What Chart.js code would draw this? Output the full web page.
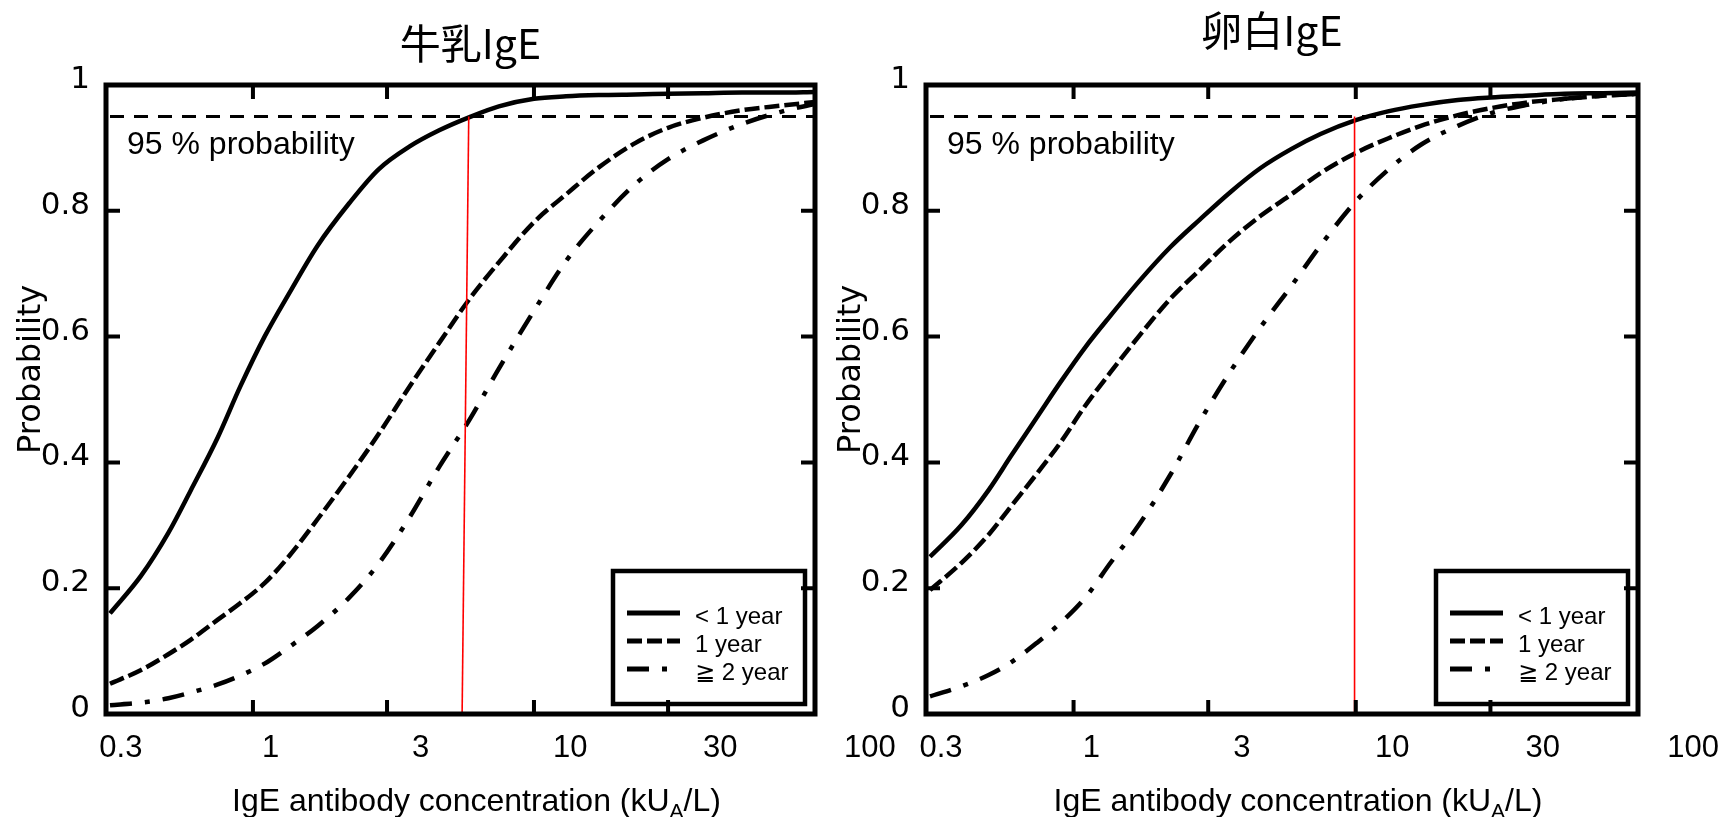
<!DOCTYPE html>
<html>
<head>
<meta charset="utf-8">
<script src="https://cdn.jsdelivr.net/npm/chart.js@4.4.1/dist/chart.umd.min.js"></script>
<style>
  html, body { margin: 0; padding: 0; background: #fff; }
  #wrap { position: relative; width: 1727px; height: 817px; }
  #wrap canvas { position: absolute; left: 0; top: 0; }
</style>
</head>
<body>
<div id="wrap">
  <canvas id="milk" width="1727" height="817"></canvas>
  <canvas id="egg" width="1727" height="817"></canvas>
</div>
<script>
const concentration = [0.31, 0.4, 0.5, 0.6, 0.75, 0.9, 1.1, 1.35, 1.7, 2.2, 2.8, 3.6, 4.6, 5.9, 7.5, 10, 13, 17, 23, 30, 40, 55, 75, 100];

// 牛乳IgE
const milkUnder1 = [0.16, 0.22, 0.288, 0.355, 0.44, 0.52, 0.60, 0.67, 0.745, 0.812, 0.866, 0.902, 0.928, 0.949, 0.966, 0.978, 0.982, 0.984, 0.985, 0.986, 0.987, 0.988, 0.988, 0.989];
const milk1 = [0.048, 0.07, 0.095, 0.118, 0.15, 0.176, 0.208, 0.252, 0.31, 0.378, 0.445, 0.52, 0.59, 0.66, 0.718, 0.782, 0.826, 0.869, 0.908, 0.932, 0.948, 0.96, 0.967, 0.973];
const milk2plus = [0.014, 0.018, 0.025, 0.034, 0.047, 0.061, 0.08, 0.107, 0.14, 0.185, 0.239, 0.312, 0.393, 0.468, 0.549, 0.641, 0.72, 0.783, 0.843, 0.882, 0.912, 0.938, 0.957, 0.97];

// 卵白IgE
const eggUnder1 = [0.25, 0.30, 0.356, 0.41, 0.475, 0.528, 0.583, 0.633, 0.687, 0.742, 0.786, 0.83, 0.868, 0.898, 0.922, 0.944, 0.958, 0.968, 0.976, 0.98, 0.983, 0.986, 0.987, 0.988];
const egg1 = [0.197, 0.24, 0.285, 0.33, 0.385, 0.432, 0.49, 0.543, 0.60, 0.66, 0.706, 0.753, 0.792, 0.826, 0.86, 0.892, 0.915, 0.935, 0.952, 0.963, 0.972, 0.978, 0.983, 0.986];
const egg2plus = [0.028, 0.044, 0.062, 0.082, 0.115, 0.145, 0.185, 0.24, 0.30, 0.38, 0.465, 0.545, 0.615, 0.68, 0.745, 0.815, 0.865, 0.905, 0.935, 0.955, 0.968, 0.978, 0.983, 0.986];

// red cut-off lines
const milkCutX = [5.55, 5.86];
const milkCutY = [0, 0.95];
const eggCutX = [9.9, 9.9];
const eggCutY = [0, 0.95];

const refLevel = 0.95;
const ageGroups = ['< 1 year', '1 year', '≧ 2 year'];
const xTickLabels = ['0.3', '1', '3', '10', '30', '100'];
const xTickMarks = [1, 3, 10, 30];
const yTickValues = [0, 0.2, 0.4, 0.6, 0.8, 1];
const yTickLabels = ['0', '0.2', '0.4', '0.6', '0.8', '1'];

const X_MIN = 0.31, X_MAX = 100;
const latinFont = '"Liberation Sans", Arial, "DejaVu Sans", "Noto Sans CJK JP", sans-serif';
const lineStyles = [
  { dash: [], width: 4.5 },
  { dash: [15, 5], width: 4.5 },
  { dash: [22, 13, 5, 13], width: 4.5 }
];

function pts(xs, ys) {
  return xs.map((x, i) => ({ x: x, y: ys[i] }));
}

const framePlugin = {
  id: 'frame',
  afterDatasetsDraw(chart) {
    const ctx = chart.ctx, a = chart.chartArea;
    const xs = chart.scales.x, ys = chart.scales.y;
    ctx.save();

    // legend
    const bw = 192, bh = 133;
    const bx = a.right - 10 - bw, by = a.bottom - 143;
    ctx.fillStyle = '#fff';
    ctx.fillRect(bx, by, bw, bh);
    ctx.strokeStyle = '#000';
    ctx.lineWidth = 4.5;
    ctx.strokeRect(bx, by, bw, bh);
    ctx.font = '24px ' + latinFont;
    ctx.textBaseline = 'middle';
    ctx.fillStyle = '#000';
    ageGroups.forEach((g, i) => {
      const ly = by + 46 + i * 28;
      ctx.beginPath();
      ctx.setLineDash(lineStyles[i].dash);
      ctx.lineWidth = 5;
      ctx.moveTo(bx + 14, ly - 4);
      ctx.lineTo(bx + 67, ly - 4);
      ctx.stroke();
      ctx.setLineDash([]);
      ctx.fillText(g, bx + 82, ly);
    });

    // frame and inward ticks
    ctx.lineWidth = 5;
    ctx.strokeRect(a.left, a.top, a.right - a.left, a.bottom - a.top);
    ctx.lineWidth = 4;
    ctx.beginPath();
    xTickMarks.forEach(v => {
      const px = xs.getPixelForValue(v);
      ctx.moveTo(px, a.top); ctx.lineTo(px, a.top + 14);
      ctx.moveTo(px, a.bottom); ctx.lineTo(px, a.bottom - 14);
    });
    yTickValues.slice(1, -1).forEach(v => {
      const py = ys.getPixelForValue(v);
      ctx.moveTo(a.left, py); ctx.lineTo(a.left + 14, py);
      ctx.moveTo(a.right, py); ctx.lineTo(a.right - 14, py);
    });
    ctx.stroke();
    ctx.restore();
  },
  afterDraw(chart) {
    const ctx = chart.ctx, a = chart.chartArea, p = chart.options.panel;
    const ys = chart.scales.y;
    const w = a.right - a.left;
    ctx.save();
    ctx.fillStyle = '#000';

    // title
    ctx.font = '41px "Noto Sans CJK JP", ' + latinFont;
    ctx.textAlign = 'center';
    ctx.textBaseline = 'middle';
    ctx.fillText(p.title, (a.left + a.right) / 2 + p.titleDx, a.top + p.titleDy);

    // 95 % text
    ctx.font = '32px ' + latinFont;
    ctx.textAlign = 'left';
    ctx.fillText('95 % probability', a.left + 21, ys.getPixelForValue(0.905));

    // x tick labels
    ctx.font = '31px ' + latinFont;
    ctx.textAlign = 'center';
    xTickLabels.forEach((t, i) => {
      ctx.fillText(t, a.left + w * (0.021 + 0.2113 * i), a.bottom + 34);
    });

    // x axis title with subscript
    const s1 = 'IgE antibody concentration (kU', sub = 'A', s2 = '/L)';
    ctx.font = '32px ' + latinFont;
    const w1 = ctx.measureText(s1).width, w3 = ctx.measureText(s2).width;
    ctx.font = '21px ' + latinFont;
    const w2 = ctx.measureText(sub).width;
    const tx = (a.left + a.right) / 2 + 16 - (w1 + w2 + w3) / 2;
    const ty = a.bottom + 88;
    ctx.textAlign = 'left';
    ctx.font = '32px ' + latinFont;
    ctx.fillText(s1, tx, ty);
    ctx.font = '21px ' + latinFont;
    ctx.fillText(sub, tx + w1, ty + 10);
    ctx.font = '32px ' + latinFont;
    ctx.fillText(s2, tx + w1 + w2, ty);

    // y tick labels
    ctx.font = '31px "DejaVu Sans", sans-serif';
    ctx.textAlign = 'right';
    yTickValues.forEach((v, i) => {
      ctx.fillText(yTickLabels[i], a.left - 16, ys.getPixelForValue(v) - 5);
    });

    // y axis title
    ctx.font = '32px "DejaVu Sans", sans-serif';
    ctx.textAlign = 'center';
    ctx.translate(a.left - 74, ys.getPixelForValue(0.548));
    ctx.rotate(-Math.PI / 2);
    ctx.fillText('Probability', 0, 0);
    ctx.restore();
  }
};

function makeChart(id, panel, series, cutX, cutY) {
  const datasets = series.map((ys, i) => ({
    label: ageGroups[i],
    data: pts(concentration, ys),
    borderColor: '#000',
    borderWidth: lineStyles[i].width,
    borderDash: lineStyles[i].dash,
    cubicInterpolationMode: 'monotone',
    fill: false,
    pointRadius: 0,
    order: 2
  }));
  datasets.push({
    label: '95 %',
    data: pts([X_MIN, X_MAX], [refLevel, refLevel]),
    borderColor: '#000',
    borderWidth: 3,
    borderDash: [14, 10],
    pointRadius: 0,
    order: 3
  });
  datasets.push({
    label: 'cut-off',
    data: pts(cutX, cutY),
    borderColor: '#ff0000',
    borderWidth: 1.6,
    pointRadius: 0,
    order: 0
  });

  return new Chart(document.getElementById(id), {
    type: 'line',
    data: { datasets: datasets },
    options: {
      responsive: false,
      animation: false,
      devicePixelRatio: 1,
      panel: panel,
      layout: { padding: panel.pad },
      plugins: {
        legend: { display: false },
        tooltip: { enabled: false },
        title: { display: false }
      },
      scales: {
        x: { type: 'logarithmic', min: X_MIN, max: X_MAX, display: false },
        y: { type: 'linear', min: 0, max: 1, display: false }
      }
    },
    plugins: [framePlugin]
  });
}

makeChart('milk',
  { title: '牛乳IgE', titleDx: 10, titleDy: -42, pad: { left: 106, right: 912, top: 85, bottom: 103 } },
  [milkUnder1, milk1, milk2plus], milkCutX, milkCutY);

makeChart('egg',
  { title: '卵白IgE', titleDx: -10, titleDy: -55, pad: { left: 926, right: 89, top: 85, bottom: 103 } },
  [eggUnder1, egg1, egg2plus], eggCutX, eggCutY);
</script>
</body>
</html>
